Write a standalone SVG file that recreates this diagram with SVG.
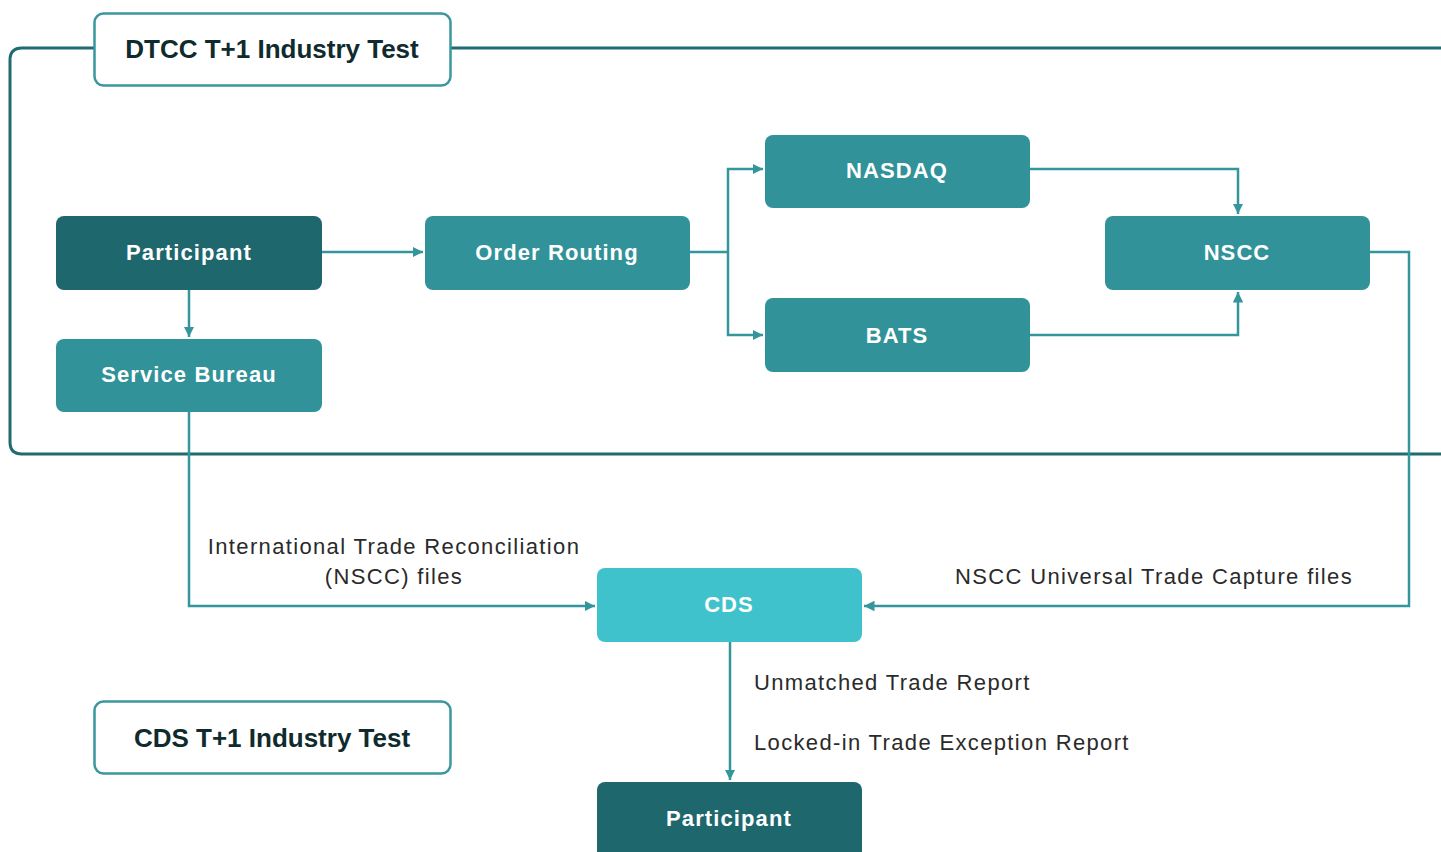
<svg xmlns="http://www.w3.org/2000/svg" width="1441" height="852" viewBox="0 0 1441 852">
<style>
.frame{fill:none;stroke:#1f6b70;stroke-width:3}
.tbox{fill:#fff;stroke:#3a979d;stroke-width:2.5}
.ttl{font-family:"Liberation Sans",Arial,sans-serif;font-weight:bold;font-size:26px;fill:#0f2b2d;text-anchor:middle}
.n{font-family:"Liberation Sans",Arial,sans-serif;font-weight:bold;font-size:22px;fill:#fff;text-anchor:middle;letter-spacing:1.1px}
.dark{fill:#1e686d}
.mid{fill:#319299}
.light{fill:#40c2cc}
.c{fill:none;stroke:#34969c;stroke-width:2.5}
.lbl{font-family:"Liberation Sans",Arial,sans-serif;font-size:22px;fill:#2a2a2a;letter-spacing:1.35px}
</style>
<defs>
<marker id="ah" viewBox="0 0 10 10" refX="10" refY="5" markerWidth="4.2" markerHeight="4.2" markerUnits="strokeWidth" orient="auto">
<path d="M0,0 L10,5 L0,10 z" fill="#34969c"/>
</marker>
</defs>
<rect width="1441" height="852" fill="#fff"/>
<path class="frame" d="M94,48 H22 Q10,48 10,60 V442 Q10,454 22,454 H1441"/>
<path class="frame" d="M450,48 H1441"/>
<g id="connectors">
<path class="c" d="M322,252 H423" marker-end="url(#ah)"/>
<path class="c" d="M690,252 H728"/>
<path class="c" d="M728,252 V169 H763" marker-end="url(#ah)"/>
<path class="c" d="M728,252 V335 H763" marker-end="url(#ah)"/>
<path class="c" d="M1030,169 H1238 V214" marker-end="url(#ah)"/>
<path class="c" d="M1030,335 H1238 V292" marker-end="url(#ah)"/>
<path class="c" d="M189,290 V337" marker-end="url(#ah)"/>
<path class="c" d="M189,412 V606 H595" marker-end="url(#ah)"/>
<path class="c" d="M1370,252 H1409 V606 H864" marker-end="url(#ah)"/>
<path class="c" d="M730,642 V780" marker-end="url(#ah)"/>
</g>
<g id="title-dtcc">
<rect class="tbox" x="94.5" y="13.5" width="356" height="72" rx="9"/>
<text class="ttl" x="272" y="58">DTCC T+1 Industry Test</text>
</g>
<g id="participant">
<rect class="dark" x="56" y="216" width="266" height="74" rx="8"/>
<text class="n" x="189" y="260">Participant</text>
</g>
<g id="order-routing">
<rect class="mid" x="425" y="216" width="265" height="74" rx="8"/>
<text class="n" x="557" y="260">Order Routing</text>
</g>
<g id="nasdaq">
<rect class="mid" x="765" y="135" width="265" height="73" rx="8"/>
<text class="n" x="897" y="178">NASDAQ</text>
</g>
<g id="bats">
<rect class="mid" x="765" y="298" width="265" height="74" rx="8"/>
<text class="n" x="897" y="343">BATS</text>
</g>
<g id="nscc">
<rect class="mid" x="1105" y="216" width="265" height="74" rx="8"/>
<text class="n" x="1237" y="260">NSCC</text>
</g>
<g id="service-bureau">
<rect class="mid" x="56" y="339" width="266" height="73" rx="8"/>
<text class="n" x="189" y="382">Service Bureau</text>
</g>
<g id="cds">
<rect class="light" x="597" y="568" width="265" height="74" rx="8"/>
<text class="n" x="729" y="612">CDS</text>
</g>
<g id="participant-2">
<rect class="dark" x="597" y="782" width="265" height="80" rx="8"/>
<text class="n" x="729" y="826">Participant</text>
</g>
<g id="title-cds">
<rect class="tbox" x="94.5" y="701.5" width="356" height="72" rx="9"/>
<text class="ttl" x="272" y="747">CDS T+1 Industry Test</text>
</g>
<g id="labels">
<text class="lbl" x="394" y="554" text-anchor="middle">International Trade Reconciliation</text>
<text class="lbl" x="394" y="584" text-anchor="middle">(NSCC) files</text>
<text class="lbl" x="1154" y="584" text-anchor="middle">NSCC Universal Trade Capture files</text>
<text class="lbl" x="754" y="690">Unmatched Trade Report</text>
<text class="lbl" x="754" y="750">Locked-in Trade Exception Report</text>
</g>
</svg>
